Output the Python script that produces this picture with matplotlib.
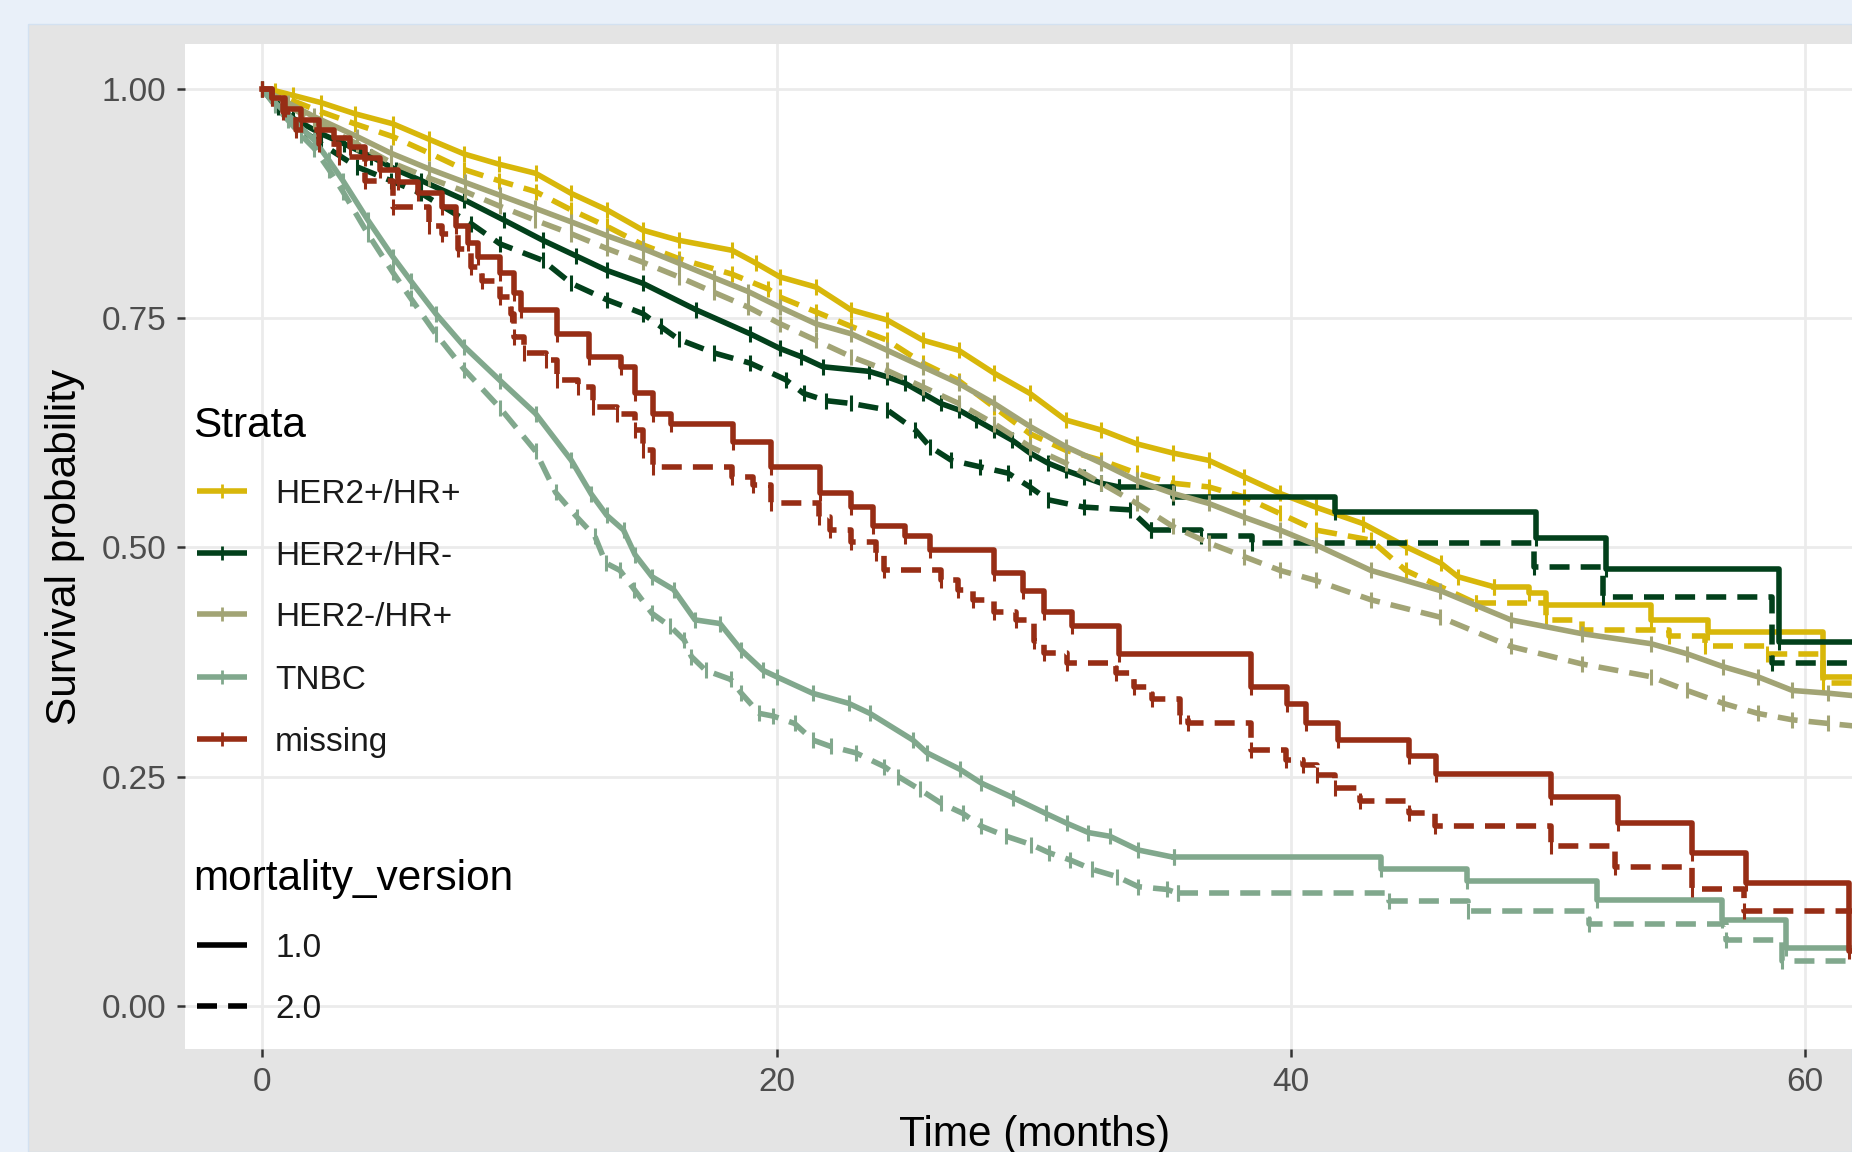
import matplotlib
matplotlib.use("Agg")
import matplotlib.pyplot as plt
from matplotlib.lines import Line2D
from matplotlib.patches import Rectangle
import numpy as np

plt.rcParams["font.family"] = ["Liberation Sans", "DejaVu Sans"]

# legend groups
strata = ["HER2+/HR+", "HER2+/HR-", "HER2-/HR+", "TNBC", "missing"]
versions = ["1.0", "2.0"]
strata_colors = ["#D8B70A", "#02401B", "#A2A475", "#81A88D", "#972D15"]

x_ticks = [0, 20, 40, 60]
y_ticks = [0.00, 0.25, 0.50, 0.75, 1.00]

# survival curves (time in months, survival probability)
her2p_hrp_v1_t = [0, 0.5, 1.2, 2.3, 3.6, 5.08, 6.5, 7.86, 9.2, 10.63, 12.02, 13.41, 14.8, 16.19, 18.27, 19.2,
                  20.13, 21.52, 22.9, 24.3, 25.69, 27.08, 28.46, 29.85, 31.24, 32.63, 34.0, 35.4, 36.8, 38.18,
                  39.57, 40.96, 42.8, 44.46, 45.82, 46.5, 47.9, 49.25, 49.93, 54.0, 56.23, 60.7, 62]
her2p_hrp_v1_s = [1.0, 0.998, 0.993, 0.985, 0.973, 0.962, 0.945, 0.929, 0.918, 0.908, 0.886, 0.868, 0.846, 0.835,
                  0.824, 0.81, 0.795, 0.784, 0.759, 0.748, 0.726, 0.715, 0.690, 0.668, 0.639, 0.628, 0.613, 0.603,
                  0.595, 0.577, 0.559, 0.544, 0.526, 0.501, 0.483, 0.468, 0.457, 0.450, 0.437, 0.421, 0.408,
                  0.359, 0.359]
her2p_hrp_v2_t = [0, 0.5, 1.2, 2.3, 3.6, 5.08, 6.5, 7.86, 9.2, 10.63, 12.02, 13.41, 14.8, 16.19, 18.27, 19.66,
                  20.13, 21.52, 22.9, 24.3, 25.69, 27.08, 28.46, 29.85, 31.24, 32.63, 34.0, 35.4, 36.8, 38.18,
                  39.57, 40.96, 43.1, 44.46, 47.2, 49.93, 51.3, 54.7, 56.1, 58.5, 60.7, 62]
her2p_hrp_v2_s = [1.0, 0.995, 0.987, 0.975, 0.962, 0.948, 0.930, 0.912, 0.900, 0.888, 0.868, 0.850, 0.830, 0.815,
                  0.798, 0.782, 0.773, 0.757, 0.741, 0.726, 0.701, 0.682, 0.653, 0.624, 0.606, 0.595, 0.581, 0.570,
                  0.566, 0.555, 0.537, 0.519, 0.508, 0.475, 0.439, 0.421, 0.410, 0.403, 0.392, 0.384, 0.352, 0.352]

her2p_hrn_v1_t = [0, 0.5, 1.2, 2.3, 3.2, 4.25, 5.2, 6.19, 7.86, 9.4, 10.91, 12.2, 13.41, 14.8, 16.88, 18.97,
                  20.13, 20.96, 21.8, 23.6, 24.3, 25.0, 25.69, 26.38, 27.08, 27.77, 28.46, 29.16, 29.85, 30.55,
                  31.24, 31.94, 32.63, 33.3, 35.4, 41.72, 49.52, 52.26, 58.97, 62]
her2p_hrn_v1_s = [1.0, 0.985, 0.968, 0.951, 0.94, 0.926, 0.912, 0.900, 0.879, 0.857, 0.835, 0.818, 0.802, 0.788,
                  0.759, 0.733, 0.717, 0.708, 0.697, 0.692, 0.686, 0.679, 0.668, 0.657, 0.650, 0.639, 0.628, 0.617,
                  0.603, 0.592, 0.584, 0.577, 0.570, 0.566, 0.555, 0.539, 0.510, 0.477, 0.397, 0.397]
her2p_hrn_v2_t = [0, 0.6, 1.3, 2.3, 3.69, 5.0, 6.19, 8.13, 9.25, 10.91, 12.02, 13.41, 14.8, 15.49, 16.19, 17.58,
                  18.97, 20.35, 21.05, 21.94, 22.9, 24.3, 25.4, 25.96, 26.8, 27.9, 29.0, 29.85, 30.55, 31.94,
                  33.74, 34.57, 36.5, 38.5, 49.45, 52.12, 58.7, 62]
her2p_hrn_v2_s = [1.0, 0.98, 0.96, 0.94, 0.915, 0.90, 0.886, 0.853, 0.831, 0.813, 0.788, 0.770, 0.755, 0.741,
                  0.727, 0.712, 0.701, 0.683, 0.668, 0.660, 0.657, 0.650, 0.628, 0.610, 0.595, 0.588, 0.581, 0.566,
                  0.552, 0.544, 0.541, 0.519, 0.512, 0.505, 0.479, 0.446, 0.374, 0.374]

her2n_hrp_t = [0, 1.0, 2.0, 3.69, 5.0, 6.47, 7.9, 9.25, 10.6, 12.02, 13.4, 14.8, 16.2, 17.58, 18.9, 20.13, 21.52,
               22.9, 24.3, 25.69, 27.08, 28.46, 29.85, 31.24, 32.63, 34.0, 35.4, 36.8, 38.18, 39.57, 40.96, 43.1,
               45.8, 48.55, 51.3, 54.0, 55.4, 56.8, 58.15, 59.5, 60.9, 62]
her2n_hrp_v1_s = [1.0, 0.985, 0.97, 0.948, 0.93, 0.913, 0.898, 0.884, 0.870, 0.855, 0.840, 0.826, 0.810, 0.794,
                  0.779, 0.762, 0.744, 0.733, 0.715, 0.697, 0.679, 0.657, 0.632, 0.610, 0.592, 0.573, 0.559, 0.548,
                  0.533, 0.519, 0.503, 0.475, 0.453, 0.421, 0.406, 0.395, 0.384, 0.370, 0.359, 0.344, 0.341, 0.338]
her2n_hrp_v2_s = [1.0, 0.982, 0.965, 0.94, 0.92, 0.903, 0.888, 0.872, 0.857, 0.842, 0.826, 0.811, 0.795, 0.778,
                  0.762, 0.744, 0.726, 0.708, 0.693, 0.675, 0.657, 0.635, 0.610, 0.592, 0.570, 0.548, 0.523, 0.505,
                  0.490, 0.475, 0.464, 0.443, 0.424, 0.392, 0.373, 0.359, 0.344, 0.330, 0.319, 0.312, 0.308, 0.305]

tnbc_v1_t = [0, 0.5, 1.0, 1.5, 2.03, 2.6, 3.14, 4.11, 5.08, 5.77, 6.75, 7.86, 9.25, 10.63, 12.02, 12.8, 13.4,
             14.05, 14.5, 15.16, 16.0, 16.83, 17.8, 18.63, 19.47, 20.0, 21.4, 22.8, 23.63, 25.3, 25.85, 27.13,
             27.96, 29.2, 30.46, 31.3, 32.13, 32.96, 34.07, 35.46, 43.5, 46.85, 51.9, 56.75, 59.27, 62]
tnbc_v1_s = [1.0, 0.985, 0.972, 0.958, 0.944, 0.922, 0.900, 0.857, 0.817, 0.791, 0.755, 0.719, 0.682, 0.646,
             0.595, 0.558, 0.535, 0.519, 0.492, 0.468, 0.454, 0.421, 0.417, 0.388, 0.366, 0.359, 0.341, 0.330,
             0.319, 0.290, 0.276, 0.258, 0.243, 0.227, 0.210, 0.199, 0.189, 0.185, 0.170, 0.162, 0.149, 0.136,
             0.116, 0.094, 0.063, 0.063]
tnbc_v2_t = [0, 0.5, 1.0, 1.5, 2.03, 2.6, 3.14, 4.11, 5.08, 5.77, 6.75, 7.86, 9.25, 10.63, 11.41, 12.24, 12.94,
             13.36, 13.91, 14.47, 15.16, 15.86, 16.41, 16.69, 17.24, 18.22, 18.63, 19.33, 19.88, 20.7, 21.41,
             22.1, 23.08, 24.19, 24.74, 25.57, 26.4, 27.24, 27.96, 28.93, 29.9, 30.6, 31.43, 32.27, 33.24, 34.07,
             35.18, 35.6, 43.8, 46.9, 51.6, 56.9, 59.1, 62]
tnbc_v2_s = [1.0, 0.982, 0.966, 0.95, 0.935, 0.912, 0.888, 0.842, 0.80, 0.772, 0.733, 0.694, 0.652, 0.605, 0.560,
             0.533, 0.512, 0.483, 0.475, 0.454, 0.428, 0.414, 0.399, 0.381, 0.366, 0.356, 0.341, 0.319, 0.316,
             0.308, 0.290, 0.283, 0.276, 0.261, 0.250, 0.236, 0.221, 0.210, 0.196, 0.185, 0.176, 0.167, 0.159,
             0.149, 0.141, 0.130, 0.127, 0.123, 0.114, 0.104, 0.089, 0.072, 0.049, 0.049]

missing_v1_t = [0, 0.4, 0.9, 1.5, 2.2, 2.8, 3.4, 4.0, 4.6, 5.3, 6.05, 7.0, 7.55, 8.0, 8.4, 9.25, 9.8, 10.05,
                11.45, 12.7, 13.95, 14.5, 15.2, 15.9, 18.3, 19.8, 21.7, 22.9, 23.75, 25.0, 25.95, 28.45, 29.6,
                30.4, 31.5, 33.3, 38.45, 39.85, 40.6, 41.85, 44.6, 45.65, 50.1, 52.7, 55.6, 57.7, 61.7, 62]
missing_v1_s = [1.0, 0.99, 0.978, 0.966, 0.955, 0.946, 0.937, 0.925, 0.912, 0.898, 0.886, 0.871, 0.850, 0.832,
                0.817, 0.799, 0.777, 0.759, 0.733, 0.708, 0.697, 0.668, 0.646, 0.635, 0.615, 0.588, 0.559, 0.544,
                0.523, 0.512, 0.497, 0.472, 0.452, 0.430, 0.414, 0.384, 0.348, 0.329, 0.308, 0.290, 0.272, 0.253,
                0.228, 0.200, 0.167, 0.134, 0.06, 0.06]
missing_v2_t = [0, 0.4, 0.8, 1.33, 2.2, 3.0, 4.0, 5.08, 6.47, 7.0, 7.6, 8.12, 8.55, 9.25, 9.66, 9.79, 10.2, 11.04,
                11.46, 12.3, 12.85, 13.8, 14.5, 14.8, 15.2, 18.27, 19.1, 19.8, 21.66, 22.08, 22.9, 23.88, 24.16,
                26.38, 27.07, 27.63, 28.45, 29.3, 30.0, 30.4, 31.3, 33.2, 33.9, 34.6, 35.7, 36.0, 38.45, 39.8,
                40.46, 41.0, 41.7, 42.68, 44.6, 45.6, 50.1, 52.6, 55.6, 57.6, 62]
missing_v2_s = [1.0, 0.99, 0.975, 0.955, 0.94, 0.926, 0.90, 0.871, 0.850, 0.842, 0.825, 0.806, 0.791, 0.773,
                0.755, 0.730, 0.712, 0.704, 0.683, 0.675, 0.653, 0.646, 0.628, 0.606, 0.588, 0.577, 0.568, 0.548,
                0.533, 0.519, 0.506, 0.494, 0.475, 0.465, 0.454, 0.443, 0.430, 0.421, 0.398, 0.385, 0.374, 0.363,
                0.348, 0.335, 0.316, 0.308, 0.279, 0.268, 0.263, 0.252, 0.238, 0.224, 0.210, 0.196, 0.174, 0.152,
                0.127, 0.103, 0.103]

# (stratum, version, times, survival)
curves = [
    (0, 0, her2p_hrp_v1_t, her2p_hrp_v1_s),
    (0, 1, her2p_hrp_v2_t, her2p_hrp_v2_s),
    (1, 0, her2p_hrn_v1_t, her2p_hrn_v1_s),
    (1, 1, her2p_hrn_v2_t, her2p_hrn_v2_s),
    (2, 0, her2n_hrp_t, her2n_hrp_v1_s),
    (2, 1, her2n_hrp_t, her2n_hrp_v2_s),
    (3, 0, tnbc_v1_t, tnbc_v1_s),
    (3, 1, tnbc_v2_t, tnbc_v2_s),
    (4, 0, missing_v1_t, missing_v1_s),
    (4, 1, missing_v2_t, missing_v2_s),
]
# where the many small drops give way to visible steps
step_from = [47.9, 47.2, 33.3, 34.57, 99, 99, 35.46, 35.6, 0, 0]

W, H = 1852, 1152
LW = 4.0
DASH = (3.6, 2.0)

fig = plt.figure(figsize=(W / 100, H / 100), dpi=100, facecolor="#e9f0f9")
fig.patches.append(Rectangle((28 / W, 0), 1 - 28 / W, 1 - 24 / H, transform=fig.transFigure,
                             facecolor="#e4e4e4", edgecolor="#d3e1f1", lw=1.0, zorder=-5))

ax = fig.add_axes([185 / W, 1 - 1049 / H, 1700 / W, 1005 / H])
ax.set_facecolor("white")
ax.set_xlim(-3.0, 63.1)
ax.set_ylim(-0.047, 1.049)

for (k, v, t, s), tc in zip(curves, step_from):
    t = np.asarray(t, float)
    s = np.asarray(s, float)
    assert len(t) == len(s)
    kw = dict(color=strata_colors[k], lw=LW, marker="|", ms=11, mew=2.2, zorder=3)
    if v == 1:
        kw["dashes"] = DASH
    n = np.searchsorted(t, tc, side="right")
    if n > 1:
        ax.plot(t[:n], s[:n], solid_capstyle="butt", **kw)
    if n < len(t):
        ax.step(t[max(n - 1, 0):], s[max(n - 1, 0):], where="post", **kw)

ax.set_xticks(x_ticks)
ax.set_yticks(y_ticks)
ax.set_yticklabels([f"{v:.2f}" for v in y_ticks])
ax.grid(True, color="#ebebeb", lw=2.0)
ax.set_axisbelow(True)
for sp in ax.spines.values():
    sp.set_visible(False)
ax.tick_params(axis="both", length=6, width=1.8, color="#333333", labelsize=24, labelcolor="#4d4d4d")
ax.tick_params(axis="y", pad=7.5)
ax.tick_params(axis="x", pad=7)

ax.set_ylabel("Survival probability", fontsize=30.5, color="black", va="center")
ax.yaxis.set_label_coords((65 - 185) / 1700, 0.5)
ax.set_xlabel("Time (months)", fontsize=30.5, color="black", va="center")
ax.xaxis.set_label_coords(0.5, -(1135 - 1049) / 1005)


# legend drawn by hand, in pixel positions of the figure
def fx(x):
    return x / W


def fy(y):
    return 1 - y / H


fig.text(fx(193), fy(422 + 15), "Strata", fontsize=30.5, va="baseline", ha="left")
rows = [491, 553, 614, 677, 739]
for name, col, y in zip(strata, strata_colors, rows):
    fig.add_artist(Line2D([fx(197), fx(247)], [fy(y), fy(y)], transform=fig.transFigure,
                          color=col, lw=LW, solid_capstyle="butt"))
    fig.add_artist(Line2D([fx(222)], [fy(y)], transform=fig.transFigure, color=col,
                          marker="|", ms=10, mew=2.0, ls="none"))
    fig.text(fx(275), fy(y + 12), name, fontsize=24, va="baseline", ha="left", color="#1a1a1a")

fig.text(fx(193), fy(875 + 15), "mortality_version", fontsize=30.5, va="baseline", ha="left")
for i, (name, y) in enumerate(zip(versions, [945, 1006])):
    ln = Line2D([fx(197), fx(247)], [fy(y), fy(y)], transform=fig.transFigure,
                color="black", lw=LW, solid_capstyle="butt")
    if i == 1:
        ln.set_dashes(DASH)
    fig.add_artist(ln)
    fig.text(fx(275), fy(y + 12), name, fontsize=24, va="baseline", ha="left", color="#1a1a1a")

fig.savefig("out.png", dpi=100, facecolor=fig.get_facecolor())
